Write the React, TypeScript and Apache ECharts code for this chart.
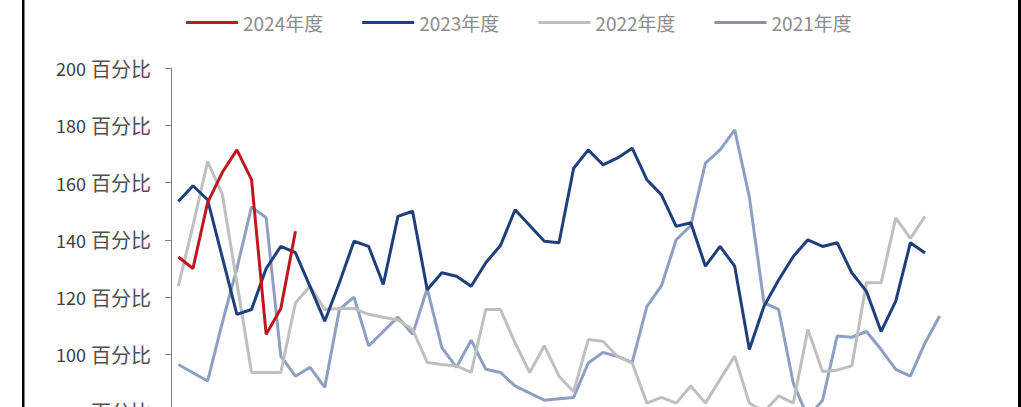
import React, { useEffect, useRef } from "react";
import * as echarts from "echarts";

const weeks: string[] = Array.from({ length: 53 }, (_, i) => `第${i + 1}周`);
const seriesNames = ["2024年度", "2023年度", "2022年度", "2021年度"];
const yTicks = [60, 80, 100, 120, 140, 160, 180, 200];

const s2024 = [134, 130, 153, 163.5, 171.4, 161, 107, 116, 143];
const s2023 = [153.4, 158.9, 154, 134, 114, 115.7, 130, 137.7, 135.5, 123.7, 111.6, 125, 139.5, 137.7, 124.4, 148.2, 150, 122.6, 128.5, 127.3, 123.8, 132, 138, 150.5, 145, 139.5, 139, 165, 171.4, 166.2, 168.6, 172, 161, 155.7, 144.7, 146, 130.8, 137.7, 130.8, 101.7, 116.8, 126, 134.2, 140, 137.7, 139, 128.5, 122, 108, 118.6, 139, 135.4];
const s2022 = [123.8, 145, 167.3, 156, 125, 93.7, 93.7, 93.7, 118, 123.8, 115.7, 116, 116, 114, 113, 112, 108.7, 97.2, 96.5, 96, 93.7, 115.7, 115.7, 104, 93.7, 103, 92.4, 87, 105.2, 104.6, 99.3, 97, 83, 85, 83, 89, 83, 91.3, 99.4, 83, 80, 85.5, 83, 108.7, 94, 94.5, 96, 125, 125, 147.7, 140.5, 148.2];
const s2021 = [96.5, 93.6, 90.7, 111, 130, 151.5, 147.7, 99.4, 92.4, 95.5, 88.5, 115.7, 120, 103, 108, 113, 107, 123, 102.4, 95.5, 105, 94.8, 93.7, 89, 86.5, 84, 84.5, 85, 97, 100.7, 99.3, 97.2, 116.7, 124, 140, 145, 166.8, 171.4, 178.4, 155, 118, 115.7, 90, 78, 84, 106.4, 106, 108, 101.7, 94.8, 92.4, 104, 113.4];

const colors = ["#C0171F", "#1F3F7C", "#BFBFBF", "#8E9FC2"];
const legendColors = ["#C0171F", "#1F3F7C", "#BFBFBF", "#8A93A6"];
const FONT = "'Noto Sans CJK SC', 'Noto Sans', sans-serif";

export default function App() {
  const ref = useRef<HTMLDivElement>(null);
  useEffect(() => {
    if (!ref.current) return;
    const chart = echarts.init(ref.current, undefined, { renderer: "svg" });
    const data = [s2024, s2023, s2022, s2021];
    chart.setOption({
      animation: false,
      backgroundColor: "#ffffff",
      textStyle: { fontFamily: FONT },
      legend: {
        data: seriesNames,
        top: 8,
        left: 181,
        icon: "rect",
        itemWidth: 52,
        itemHeight: 3,
        itemGap: 39,
        textStyle: { fontSize: 19, color: "#8c8c8c", fontFamily: FONT },
      },
      grid: { left: 171, right: 74, top: 68, height: 401, containLabel: false },
      xAxis: {
        type: "category",
        data: weeks,
        boundaryGap: true,
        axisLine: { show: false },
        axisTick: { show: false },
        axisLabel: { show: false },
      },
      yAxis: {
        type: "value",
        min: yTicks[0],
        max: yTicks[yTicks.length - 1],
        interval: 20,
        axisLine: { show: true, lineStyle: { color: "#7f7f7f", width: 1 } },
        axisTick: { show: true, length: 6, lineStyle: { color: "#7f7f7f" } },
        splitLine: { show: false },
        axisLabel: {
          formatter: (v: number) => `{n|${v}}{c|百分比}`,
          color: "#404040",
          margin: 20,
          fontFamily: FONT,
          rich: {
            n: { fontSize: 18, color: "#404040", fontFamily: FONT },
            c: { fontSize: 20, color: "#505050", fontFamily: FONT, padding: [0, 0, 0, 5] },
          },
        },
      },
      graphic: [
        { type: "rect", left: 22, top: 0, shape: { width: 2.5, height: 407 }, style: { fill: "#000" } },
        { type: "rect", left: 1018, top: 0, shape: { width: 3, height: 407 }, style: { fill: "#000" } },
      ],
      series: seriesNames.map((name, k) => ({
        name,
        type: "line",
        data: data[k],
        symbol: "none",
        z: 10 - k,
        lineStyle: { color: colors[k], width: 3 },
        itemStyle: { color: legendColors[k] },
      })),
    });
    return () => chart.dispose();
  }, []);
  return (
    <div style={{ position: "absolute", left: 0, top: 0, width: 1021, height: 407, overflow: "hidden", background: "#fff" }}>
      <div ref={ref} style={{ width: 1021, height: 500 }} />
    </div>
  );
}
